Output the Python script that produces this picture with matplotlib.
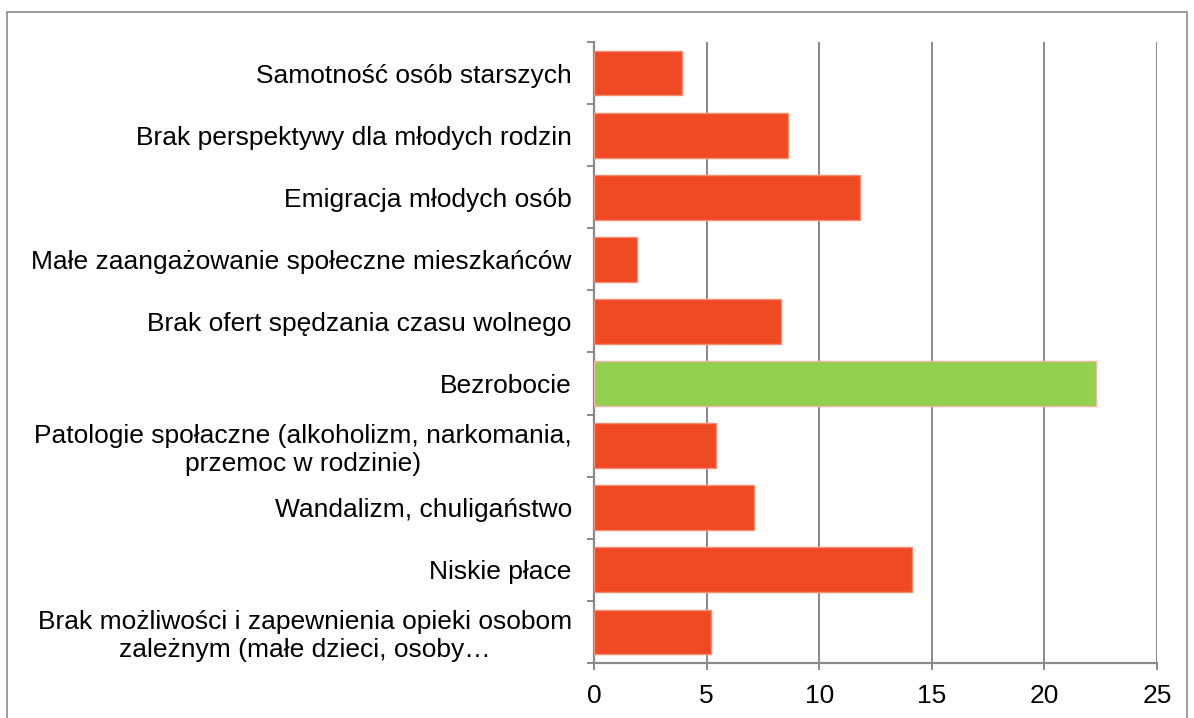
import numpy as np
import matplotlib
matplotlib.use('Agg')
from matplotlib import pyplot as plt
from matplotlib.patches import Rectangle

categories = [
    'Samotność osób starszych',
    'Brak perspektywy dla młodych rodzin',
    'Emigracja młodych osób',
    'Małe zaangażowanie społeczne mieszkańców',
    'Brak ofert spędzania czasu wolnego',
    'Bezrobocie',
    'Patologie społaczne (alkoholizm, narkomania,\nprzemoc w rodzinie)',
    'Wandalizm, chuligaństwo',
    'Niskie płace',
    'Brak możliwości i zapewnienia opieki osobom\nzależnym (małe dzieci, osoby…',
]
values = [3.9, 8.6, 11.8, 1.9, 8.3, 22.3, 5.4, 7.1, 14.1, 5.2]
highlight = 'Bezrobocie'
x_ticks = [0, 5, 10, 15, 20, 25]

plt.rcParams['font.family'] = ['Liberation Sans', 'DejaVu Sans']

fig = plt.figure(figsize=(11.94, 7.18), dpi=100)
ax = fig.add_axes([594/1194, 1 - 663/718, (1157-594)/1194, (663-42)/718])

# outer frame like the original chart box
fig.patches.append(Rectangle((7/1194, -0.05), (1187-7)/1194, 1.05 - 12/718,
                             transform=fig.transFigure, fill=False,
                             edgecolor='#8c8c8c', linewidth=1.2))

red = '#ef4a24'
green = '#92d050'
colors = [green if c == highlight else red for c in categories]
edges = ['#f6b3a8' if c == highlight else '#f58b70' for c in categories]

y = np.arange(len(categories))
ax.barh(y, values, height=0.72, color=colors, edgecolor=edges, linewidth=1.0, zorder=3)

ax.set_xlim(0, 25)
ax.set_ylim(len(categories) - 0.5, -0.5)

ax.set_xticks(x_ticks)
ax.set_xticklabels([str(t) for t in x_ticks], fontsize=19)
ax.xaxis.grid(True, color='#898989', linewidth=1.4, zorder=1)
ax.set_axisbelow(True)

# ticks on category boundaries, labels centred between them
ax.set_yticks(np.arange(len(categories) + 1) - 0.5)
ax.set_yticklabels([])
ax.set_yticks(y, minor=True)
ax.set_yticklabels(categories, minor=True, fontsize=19)
for lab in ax.get_yticklabels(minor=True):
    lab.set_multialignment('center')

ax.tick_params(axis='y', which='major', length=5, width=1.4, color='#898989')
ax.tick_params(axis='y', which='minor', length=0, pad=16)
ax.tick_params(axis='x', length=5, width=1.4, color='#898989', pad=10)

for s in ['top', 'right']:
    ax.spines[s].set_visible(False)
for s in ['left', 'bottom']:
    ax.spines[s].set_color('#898989')
    ax.spines[s].set_linewidth(1.6)

fig.savefig('out.png', dpi=100)
